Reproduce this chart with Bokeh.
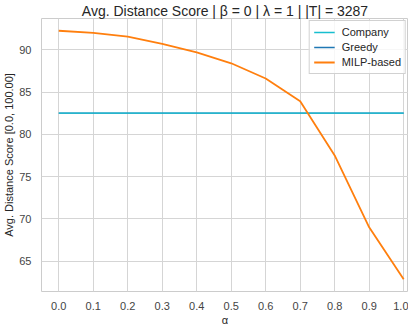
from bokeh.plotting import figure
from bokeh.models import FixedTicker, Legend, LegendItem, NumeralTickFormatter
from bokeh.embed import file_html
from bokeh.resources import INLINE

alpha = [0.0, 0.1, 0.2, 0.3, 0.4, 0.5, 0.6, 0.7, 0.8, 0.9, 1.0]
milp = [92.25, 92.0, 91.55, 90.7, 89.7, 88.4, 86.6, 83.9, 77.5, 69.0, 62.85]
company = [82.5, 82.5, 82.5, 82.5, 82.5, 82.5, 82.5, 82.5, 82.5, 82.5, 82.5]
greedy = [82.5, 82.5, 82.5, 82.5, 82.5, 82.5, 82.5, 82.5, 82.5, 82.5, 82.5]
x_ticks = [0.0, 0.1, 0.2, 0.3, 0.4, 0.5, 0.6, 0.7, 0.8, 0.9, 1.0]
y_ticks = [65, 70, 75, 80, 85, 90]

FONT = "Liberation Sans"

p = figure(frame_width=367, frame_height=273, output_backend="svg", toolbar_location=None,
           x_range=(-0.05, 1.014), y_range=(61.4, 93.7),
           title="Avg. Distance Score | β = 0 | λ = 1 | |T| = 3287",
           min_border_left=0, min_border_right=0, min_border_top=0, min_border_bottom=0)

p.title.align = "center"
p.title.text_font = FONT
p.title.text_font_size = "14px"
p.title.text_font_style = "normal"
p.title.text_color = "#262626"
p.title.text_line_height = 1.0
p.title.offset = 0
p.title.standoff = 0

p.outline_line_color = "#cccccc"
p.outline_line_width = 1
p.background_fill_color = "white"
p.border_fill_color = "white"

for ax in (p.xaxis[0], p.yaxis[0]):
    ax.axis_line_color = None
    ax.major_tick_line_color = None
    ax.minor_tick_line_color = None
    ax.major_label_text_font = FONT
    ax.major_label_text_font_size = "11px"
    ax.major_label_text_color = "#444444"
    ax.axis_label_text_font = FONT
    ax.axis_label_text_font_size = "11px"
    ax.axis_label_text_font_style = "normal"
    ax.axis_label_text_color = "#262626"

p.xaxis[0].ticker = FixedTicker(ticks=x_ticks)
p.xaxis[0].formatter = NumeralTickFormatter(format="0.0")
p.yaxis[0].ticker = FixedTicker(ticks=y_ticks)
p.xaxis[0].axis_label = "α"
p.yaxis[0].axis_label = "Avg. Distance Score [0.0, 100.00]"
p.xaxis[0].major_label_standoff = 4
p.xaxis[0].axis_label_standoff = 1
p.yaxis[0].major_label_standoff = 4
p.yaxis[0].axis_label_standoff = 1

p.xgrid.grid_line_color = "#d5d5d5"
p.ygrid.grid_line_color = "#d5d5d5"
p.xgrid.grid_line_width = 1
p.ygrid.grid_line_width = 1

r_greedy = p.line(alpha, greedy, line_color="#1f77b4", line_width=1.3)
r_company = p.line(alpha, company, line_color="#17becf", line_width=1.3)
r_milp = p.line(alpha, milp, line_color="#ff7f0e", line_width=1.8)

legend = Legend(items=[LegendItem(label="Company", renderers=[r_company]),
                       LegendItem(label="Greedy", renderers=[r_greedy]),
                       LegendItem(label="MILP-based", renderers=[r_milp])],
                location="top_right")
legend.label_text_font = FONT
legend.label_text_font_size = "11px"
legend.label_text_color = "#262626"
legend.glyph_width = 21
legend.glyph_height = 14
legend.label_height = 14
legend.spacing = 1
legend.padding = 4
legend.margin = 2
legend.label_standoff = 7
legend.border_line_color = "#cccccc"
legend.border_line_alpha = 0.9
legend.background_fill_alpha = 0.8
p.add_layout(legend)

open("out.html", "w").write(file_html(p, INLINE))
